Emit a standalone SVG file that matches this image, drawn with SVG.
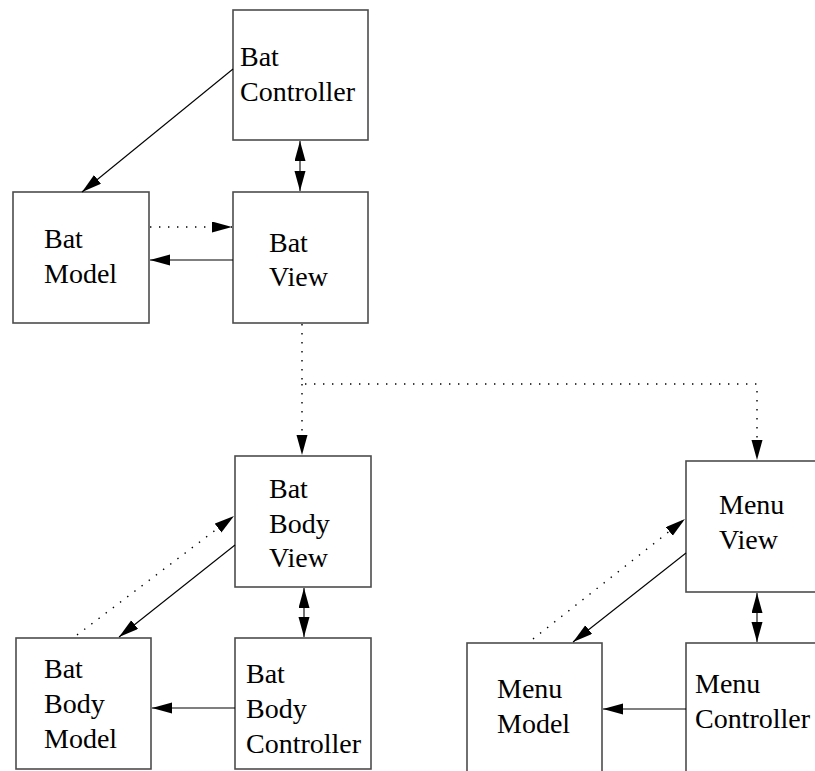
<svg xmlns="http://www.w3.org/2000/svg" width="815" height="771" viewBox="0 0 815 771">
  <style>
    .box { fill: #ffffff; stroke: #4d4d4d; stroke-width: 1.6; }
    .lbl { font-family: "Liberation Serif", "Times New Roman", serif; font-size: 28px; fill: #000000; }
    .solid { fill: none; stroke: #000000; stroke-width: 1.1; }
    .dot { fill: none; stroke: #000000; stroke-width: 1.4; stroke-dasharray: 1.4 7.6; }
  </style>
  <defs>
    <marker id="head" markerUnits="userSpaceOnUse" markerWidth="21" markerHeight="12" refX="20" refY="5.5" orient="auto-start-reverse">
      <path d="M0,0 L20,5.5 L0,11 z" fill="#000000"/>
    </marker>
  </defs>

  <!-- nodes -->
  <g id="bat-controller">
    <rect class="box" x="233" y="10" width="135" height="130"/>
    <text class="lbl" x="240" y="66">Bat</text>
    <text class="lbl" x="240" y="101">Controller</text>
  </g>
  <g id="bat-model">
    <rect class="box" x="13" y="192" width="136" height="131"/>
    <text class="lbl" x="44" y="248">Bat</text>
    <text class="lbl" x="44" y="283">Model</text>
  </g>
  <g id="bat-view">
    <rect class="box" x="233" y="192" width="135" height="131"/>
    <text class="lbl" x="269" y="252">Bat</text>
    <text class="lbl" x="269" y="286">View</text>
  </g>
  <g id="bat-body-view">
    <rect class="box" x="235" y="456" width="136" height="131"/>
    <text class="lbl" x="269" y="498">Bat</text>
    <text class="lbl" x="269" y="533">Body</text>
    <text class="lbl" x="269" y="567">View</text>
  </g>
  <g id="bat-body-model">
    <rect class="box" x="16" y="638" width="135" height="131"/>
    <text class="lbl" x="44" y="678">Bat</text>
    <text class="lbl" x="44" y="713">Body</text>
    <text class="lbl" x="44" y="748">Model</text>
  </g>
  <g id="bat-body-controller">
    <rect class="box" x="235" y="638" width="136" height="131"/>
    <text class="lbl" x="246" y="683">Bat</text>
    <text class="lbl" x="246" y="718">Body</text>
    <text class="lbl" x="246" y="753">Controller</text>
  </g>
  <g id="menu-view">
    <rect class="box" x="686" y="461" width="135" height="131"/>
    <text class="lbl" x="719" y="514">Menu</text>
    <text class="lbl" x="719" y="549">View</text>
  </g>
  <g id="menu-model">
    <rect class="box" x="467" y="643" width="135" height="131"/>
    <text class="lbl" x="497" y="698">Menu</text>
    <text class="lbl" x="497" y="733">Model</text>
  </g>
  <g id="menu-controller">
    <rect class="box" x="686" y="643" width="135" height="131"/>
    <text class="lbl" x="695" y="693">Menu</text>
    <text class="lbl" x="695" y="728">Controller</text>
  </g>

  <!-- connectors -->
  <g id="connectors">
    <!-- Bat group -->
    <line class="solid" x1="233" y1="69" x2="82" y2="192" marker-end="url(#head)"/>
    <line class="solid" x1="300" y1="141" x2="300" y2="191" marker-start="url(#head)" marker-end="url(#head)"/>
    <line class="dot" x1="150" y1="227" x2="232" y2="227" marker-end="url(#head)"/>
    <line class="solid" x1="233" y1="260" x2="150" y2="260" marker-end="url(#head)"/>

    <!-- fan-out from Bat View -->
    <polyline class="dot" points="302,324 302,384 757,384 757,460" marker-end="url(#head)"/>
    <line class="dot" x1="302" y1="384" x2="302" y2="455" marker-end="url(#head)"/>

    <!-- Bat Body group -->
    <line class="dot" x1="77" y1="635" x2="234" y2="516" marker-end="url(#head)"/>
    <line class="solid" x1="235" y1="545" x2="119" y2="637" marker-end="url(#head)"/>
    <line class="solid" x1="304" y1="588" x2="304" y2="637" marker-start="url(#head)" marker-end="url(#head)"/>
    <line class="solid" x1="235" y1="708" x2="152" y2="708" marker-end="url(#head)"/>

    <!-- Menu group -->
    <line class="dot" x1="533" y1="639" x2="685" y2="519" marker-end="url(#head)"/>
    <line class="solid" x1="686" y1="553" x2="573" y2="642" marker-end="url(#head)"/>
    <line class="solid" x1="757" y1="593" x2="757" y2="642" marker-start="url(#head)" marker-end="url(#head)"/>
    <line class="solid" x1="686" y1="709" x2="603" y2="709" marker-end="url(#head)"/>
  </g>
</svg>
